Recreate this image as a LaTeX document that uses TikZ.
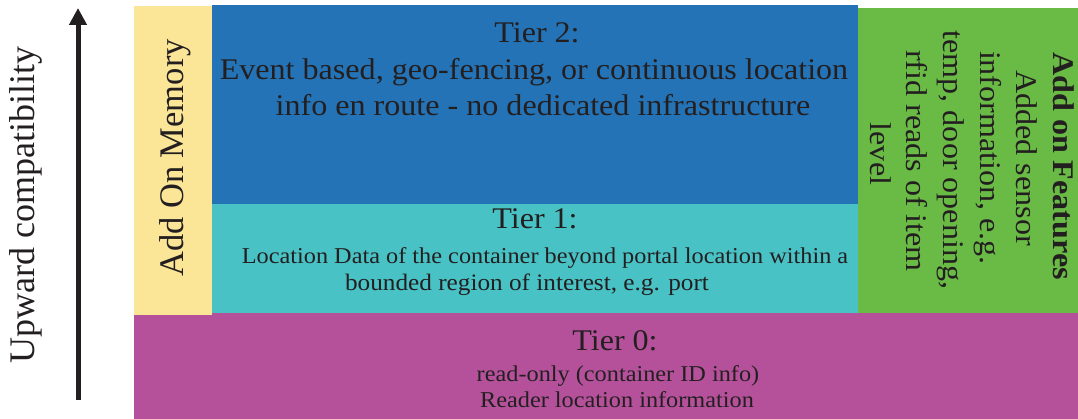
\documentclass[tikz,border=0pt]{standalone}
\usepackage{fontspec}
\setmainfont{Liberation Serif}
\newfontfamily\tierfont[FakeStretch=1.07]{Liberation Serif}
\usetikzlibrary{arrows.meta}
\definecolor{memyellow}{HTML}{FBE597}
\definecolor{tiertwo}{HTML}{2473B6}
\definecolor{tierone}{HTML}{48C2C5}
\definecolor{featgreen}{HTML}{6ABA46}
\definecolor{tierzero}{HTML}{B5519B}
\definecolor{ink}{HTML}{231F20}
\begin{document}
\begin{tikzpicture}[x=1pt,y=1pt,
  blk/.style={draw=none,inner sep=0pt,outer sep=0pt,anchor=north west},
  txt/.style={text=ink,inner sep=0pt,outer sep=0pt,anchor=base},
  head/.style={txt,font=\tierfont\fontsize{30}{36}\selectfont},
  big/.style={txt,font=\tierfont\fontsize{30}{36}\selectfont},
  small/.style={txt,font=\tierfont\fontsize{22.7}{27}\selectfont},
  feat/.style={txt,rotate=-90,font=\tierfont\fontsize{30}{36}\selectfont},
  side/.style={txt,rotate=90,font=\fontsize{34.5}{40}\selectfont}]
\useasboundingbox (0,0) rectangle (1078,-419);
% blocks
\node[blk,fill=tierzero,minimum width=944pt,minimum height=106pt] (t0) at (134,-313) {};
\node[blk,fill=memyellow,minimum width=78pt,minimum height=309pt] (mem) at (134,-6) {};
\node[blk,fill=tiertwo,minimum width=646pt,minimum height=199pt] (t2) at (212,-5) {};
\node[blk,fill=tierone,minimum width=646pt,minimum height=109pt] (t1) at (212,-204) {};
\node[blk,fill=featgreen,minimum width=220pt,minimum height=305pt] (feat) at (858,-8) {};
% arrow
\coordinate (abot) at (78,-400);
\coordinate (atop) at (78,-8);
\draw[ink,line width=5pt,-{Triangle[length=17pt,width=17pt]}] (abot) -- (atop);
\node[side,font=\fontsize{36}{42}\selectfont] (up) at (34,-205) {Upward compatibility};
\node[side] (memtxt) at (183,-158) {Add On Memory};
% tier 2
\node[head] (t2a) at (537,-43) {Tier 2:};
\node[big] (t2b) at (534,-80) {Event based, geo-fencing, or continuous location};
\node[big] (t2c) at (543,-116) {info en route - no dedicated infrastructure};
% tier 1
\node[head] (t1a) at (535,-229) {Tier 1:};
\node[small] (t1b) at (545,-264) {Location Data of the container beyond portal location within a};
\node[small,font=\tierfont\fontsize{23.6}{28}\selectfont] (t1c) at (527,-291) {bounded region of interest, e.g. port};
% tier 0
\node[head] (t0a) at (615,-350) {Tier 0:};
\node[small] (t0b) at (618,-381) {read-only (container ID info)};
\node[small] (t0c) at (617,-407) {Reader location information};
% features
\node[feat,font=\tierfont\fontsize{30}{36}\selectfont\bfseries] (f1) at (1053,-166) {Add on Features};
\node[feat] (f2) at (1016,-158) {Added sensor};
\node[feat] (f3) at (980,-158) {information, e.g.};
\node[feat] (f4) at (943,-160) {temp, door opening,};
\node[feat] (f5) at (906,-161) {rfid reads of item};
\node[feat] (f6) at (870,-154) {level};
\end{tikzpicture}
\end{document}
